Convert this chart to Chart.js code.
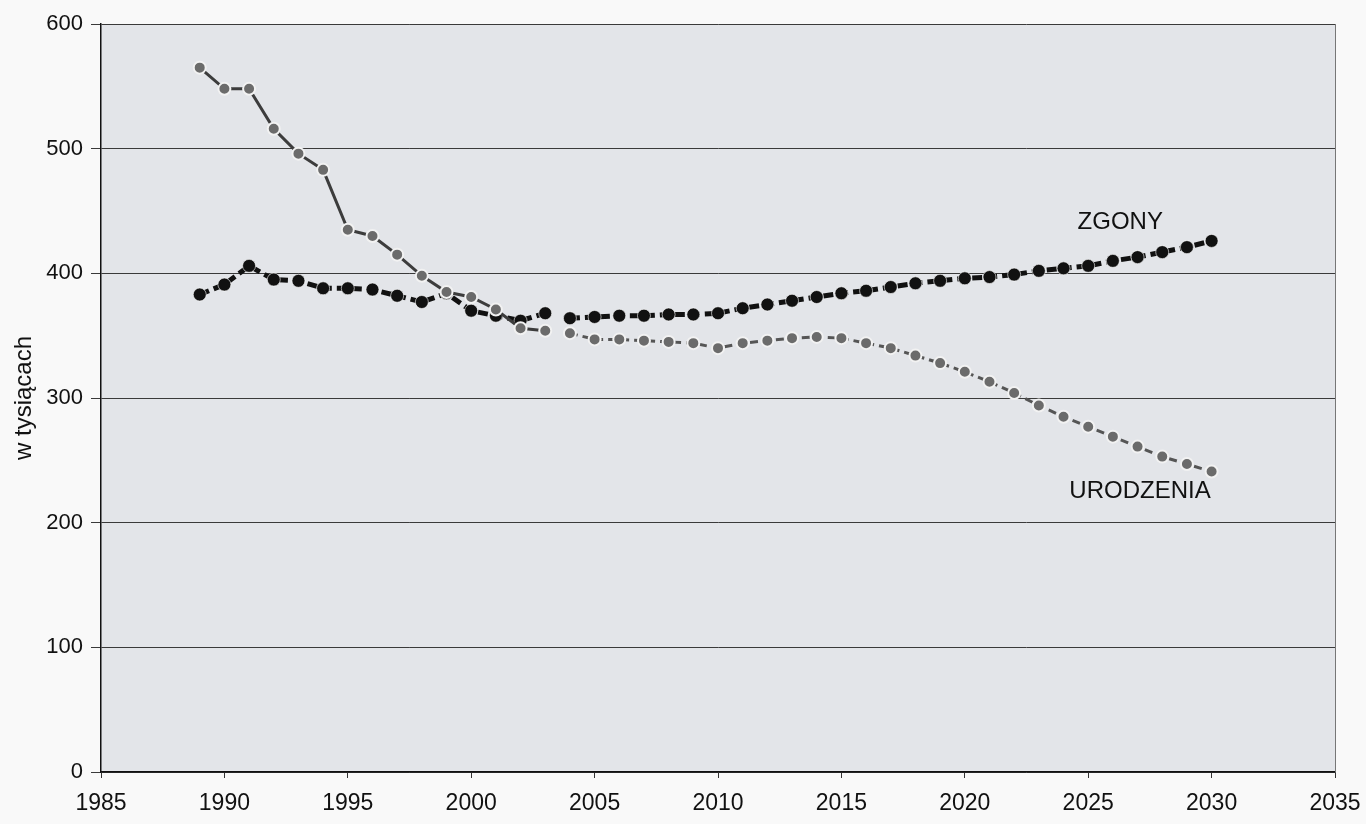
<!DOCTYPE html>
<html>
<head>
<meta charset="utf-8">
<script src="https://cdn.jsdelivr.net/npm/chart.js@4.4.1/dist/chart.umd.min.js"></script>
<style>
  html, body { margin: 0; padding: 0; background: #f9f9f9; }
  #wrap { width: 1366px; height: 824px; }
</style>
</head>
<body>
<div id="wrap"><canvas id="lineChart" width="1366" height="824"></canvas></div>
<script>
// years 1989-2030; 1989-2003 observed, 2004-2030 projection
const years = [1989, 1990, 1991, 1992, 1993, 1994, 1995, 1996, 1997, 1998, 1999, 2000, 2001, 2002, 2003,
    2004, 2005, 2006, 2007, 2008, 2009, 2010, 2011, 2012, 2013, 2014, 2015, 2016, 2017, 2018, 2019,
    2020, 2021, 2022, 2023, 2024, 2025, 2026, 2027, 2028, 2029, 2030];
const zgony = [383, 391, 406, 395, 394, 388, 388, 387, 382, 377, 384, 370, 366, 362, 368,
    364, 365, 366, 366, 367, 367, 368, 372, 375, 378, 381, 384, 386, 389, 392, 394,
    396, 397, 399, 402, 404, 406, 410, 413, 417, 421, 426];
const urodzenia = [565, 548, 548, 516, 496, 483, 435, 430, 415, 398, 385, 381, 371, 356, 354,
    352, 347, 347, 346, 345, 344, 340, 344, 346, 348, 349, 348, 344, 340, 334, 328,
    321, 313, 304, 294, 285, 277, 269, 261, 253, 247, 241];
const lastObservedYear = 2003;
const xTicks = [1985, 1990, 1995, 2000, 2005, 2010, 2015, 2020, 2025, 2030, 2035];
const yTicks = [0, 100, 200, 300, 400, 500, 600];
const seriesLabels = [
    { text: "ZGONY", x: 2026.3, y: 441 },
    { text: "URODZENIA", x: 2027.1, y: 225 }
];

function points(values, observed) {
    const out = [];
    years.forEach((yr, i) => {
        if ((yr <= lastObservedYear) === observed) out.push({ x: yr, y: values[i] });
    });
    return out;
}

const FONT = "'Liberation Sans', Arial, sans-serif";

// grey plot area, right frame line, series names
const plotBg = {
    id: "plotBg",
    beforeDraw(chart) {
        const { ctx, chartArea: a } = chart;
        ctx.save();
        ctx.fillStyle = "#e3e5e9";
        ctx.fillRect(a.left, a.top, a.right - a.left, a.bottom - a.top);
        ctx.restore();
    },
    afterDatasetsDraw(chart) {
        const { ctx, chartArea: a, scales } = chart;
        ctx.save();
        ctx.strokeStyle = "#777";
        ctx.lineWidth = 1;
        ctx.beginPath();
        ctx.moveTo(a.right + 0.5, a.top);
        ctx.lineTo(a.right + 0.5, a.bottom);
        ctx.stroke();
        ctx.font = "24px " + FONT;
        ctx.fillStyle = "#111";
        ctx.textAlign = "center";
        ctx.textBaseline = "middle";
        seriesLabels.forEach(l => {
            ctx.fillText(l.text, scales.x.getPixelForValue(l.x), scales.y.getPixelForValue(l.y));
        });
        ctx.restore();
    }
};

const ctx = document.getElementById("lineChart").getContext("2d");

new Chart(ctx, {
    type: "line",
    data: {
        datasets: [
            {
                label: "URODZENIA",
                data: points(urodzenia, true),
                borderColor: "#3c3c3c",
                borderWidth: 3,
                pointRadius: 6,
                pointBackgroundColor: "#6b6b6b",
                pointBorderColor: "#f2f2f2",
                pointBorderWidth: 2,
                tension: 0
            },
            {
                label: "URODZENIA prognoza",
                data: points(urodzenia, false),
                borderColor: "#555",
                borderWidth: 3,
                borderDash: [8, 5],
                pointRadius: 6,
                pointBackgroundColor: "#6b6b6b",
                pointBorderColor: "#f2f2f2",
                pointBorderWidth: 2,
                tension: 0
            },
            {
                label: "ZGONY",
                data: points(zgony, true),
                borderColor: "#111",
                borderWidth: 5,
                borderDash: [10, 5],
                pointRadius: 6.5,
                pointBackgroundColor: "#111",
                pointBorderColor: "rgba(255,255,255,0.6)",
                pointBorderWidth: 1,
                tension: 0
            },
            {
                label: "ZGONY prognoza",
                data: points(zgony, false),
                borderColor: "#111",
                borderWidth: 5,
                borderDash: [10, 5],
                pointRadius: 6.5,
                pointBackgroundColor: "#111",
                pointBorderColor: "rgba(255,255,255,0.6)",
                pointBorderWidth: 1,
                tension: 0
            }
        ]
    },
    options: {
        responsive: false,
        animation: false,
        layout: { padding: { left: 10, top: 24, right: 31, bottom: 0 } },
        plugins: {
            legend: { display: false },
            tooltip: { enabled: false }
        },
        scales: {
            x: {
                type: "linear",
                min: 1985,
                max: 2035,
                afterBuildTicks: axis => { axis.ticks = xTicks.map(v => ({ value: v })); },
                afterFit: axis => {
                    axis.height = 52;
                    axis.paddingLeft = 0;
                    axis.paddingRight = 0;
                },
                ticks: {
                    color: "#111",
                    font: { family: FONT, size: 23 },
                    padding: 12,
                    maxRotation: 0,
                    callback: v => String(v)
                },
                grid: { drawOnChartArea: false, color: "#333", tickLength: 6 },
                border: { color: "#111", width: 1.5 }
            },
            y: {
                min: 0,
                max: 600,
                afterBuildTicks: axis => { axis.ticks = yTicks.map(v => ({ value: v })); },
                afterFit: axis => { axis.width = 91; },
                ticks: {
                    color: "#111",
                    font: { family: FONT, size: 22 },
                    padding: 8,
                    callback: v => String(v)
                },
                title: {
                    display: true,
                    text: "w tysiącach",
                    color: "#111",
                    font: { family: FONT, size: 24 },
                    padding: { top: 0, bottom: 2 }
                },
                grid: { color: "#3a3a3a", lineWidth: 1, tickLength: 10 },
                border: { color: "#111", width: 1.5 }
            }
        }
    },
    plugins: [plotBg]
});
</script>
</body>
</html>
